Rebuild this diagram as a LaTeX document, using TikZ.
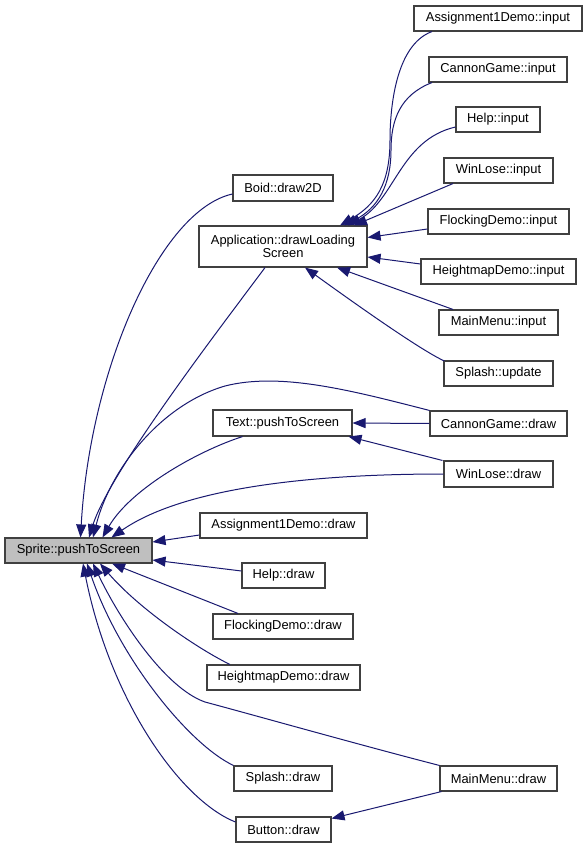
\documentclass[tikz,border=0pt]{standalone}
\usepackage{fontspec}
\setmainfont{Liberation Sans}
\usetikzlibrary{arrows.meta,calc}
\definecolor{edgeblue}{HTML}{191970}
\definecolor{boxline}{HTML}{404040}
\begin{document}
\begin{tikzpicture}[x=1pt,y=-1pt,
  box/.style={draw=boxline, line width=1.1pt, fill=white, inner sep=0pt,
    minimum height=25pt, font=\fontsize{12.9}{13}\selectfont, align=center},
  edge/.style={draw=edgeblue, line width=1pt, -{Triangle[length=13pt,width=10pt]}}]
\fill[white] (0,0) rectangle (588,848);
\useasboundingbox (0,0) rectangle (588,848);

\node[box, fill=black!25, minimum width=147pt] (sprite) at (78.5,550.5) {Sprite::pushToScreen};
\node[box, minimum width=100pt, minimum height=26pt] (boid) at (283,188) {Boid::draw2D};
\node[box, minimum width=168pt, minimum height=41pt] (app) at (283,246.5) {Application::drawLoading\\Screen};
\node[box, minimum width=168pt] (a1in) at (498,18.5) {Assignment1Demo::input};
\node[box, minimum width=138pt] (cgin) at (498,69.5) {CannonGame::input};
\node[box, minimum width=84pt] (hin) at (498,119.5) {Help::input};
\node[box, minimum width=109pt] (wlin) at (498.5,170.5) {WinLose::input};
\node[box, minimum width=141pt] (fdin) at (498.5,221.5) {FlockingDemo::input};
\node[box, minimum width=155pt] (hmin) at (498.5,271.5) {HeightmapDemo::input};
\node[box, minimum width=119pt] (mmin) at (498.5,322.5) {MainMenu::input};
\node[box, minimum width=109pt] (spup) at (498.5,373.5) {Splash::update};
\node[box, minimum width=139pt, minimum height=26pt] (text) at (282.5,423) {Text::pushToScreen};
\node[box, minimum width=137pt] (cgdr) at (498.5,423.5) {CannonGame::draw};
\node[box, minimum width=109pt, minimum height=26pt] (wldr) at (498.5,474) {WinLose::draw};
\node[box, minimum width=167pt] (a1dr) at (283.5,525.5) {Assignment1Demo::draw};
\node[box, minimum width=83pt] (hdr) at (283.5,575.5) {Help::draw};
\node[box, minimum width=140pt] (fddr) at (283,626.5) {FlockingDemo::draw};
\node[box, minimum width=153pt] (hmdr) at (283.5,677.5) {HeightmapDemo::draw};
\node[box, minimum width=98pt] (spdr) at (283,778.5) {Splash::draw};
\node[box, minimum width=117pt] (mmdr) at (498.5,778.5) {MainMenu::draw};
\node[box, minimum width=95pt] (btn) at (283.5,829.5) {Button::draw};

% edges into Sprite::pushToScreen
\draw[edge] ($(boid.west)+(0,6)$) .. controls (160,210) and (90,370) .. ($(sprite.north)+(2,0)$);
\draw[edge] ($(app.south)+(-18,0)$) .. controls (230,315) and (110,470) .. ($(sprite.north)+(10.5,0)$);
\draw[edge] (cgdr.north west) .. controls (350,390) and (280,372) .. (225,386) .. controls (160,405) and (110,470) .. ($(sprite.north)+(14.5,0)$);
\draw[edge] ($(text.south)+(-40,0)$) .. controls (195,452) and (130,490) .. ($(sprite.north)+(24,0)$);
\draw[edge] (wldr.west) .. controls (300,474) and (180,490) .. ($(sprite.north)+(33,0)$);
\draw[edge] ($(a1dr.west)+(0,9.5)$) -- ($(sprite.east)+(0,-8.5)$);
\draw[edge] ($(hdr.west)+(0,-4.5)$) -- ($(sprite.east)+(0,9.5)$);
\draw[edge] ($(fddr.north)+(-45,0)$) -- ($(sprite.south)+(33.5,0)$);
\draw[edge] ($(hmdr.north)+(-53.5,0)$) .. controls (200,650) and (140,610) .. ($(sprite.south)+(21.5,0)$);
\draw[edge] (mmdr.north west) .. controls (360,745) and (250,714) .. (205,702) .. controls (165,688) and (120,620) .. ($(sprite.south)+(14.5,0)$);
\draw[edge] (spdr.north west) .. controls (190,745) and (120,660) .. ($(sprite.south)+(8.5,0)$);
\draw[edge] ($(btn.west)+(0,-7.5)$) .. controls (180,800) and (110,700) .. ($(sprite.south)+(4.5,0)$);

% edges into Application::drawLoadingScreen
\draw[edge] ($(a1in.south)+(-66,0)$) .. controls (395,45) and (390,110) .. (390,140) .. controls (390,185) and (375,205) .. ($(app.north)+(57,0)$);
\draw[edge] ($(cgin.south)+(-66,0)$) .. controls (400,95) and (391,120) .. (391,150) .. controls (391,185) and (378,208) .. ($(app.north)+(61,0)$);
\draw[edge] ($(hin.west)+(0,7.5)$) .. controls (400,140) and (395,200) .. ($(app.north)+(65,0)$);
\draw[edge] ($(wlin.south)+(-45.5,0)$) -- ($(app.north)+(71,0)$);
\draw[edge] ($(fdin.west)+(0,7.5)$) -- ($(app.east)+(0,-9)$);
\draw[edge] ($(hmin.west)+(0,-7.5)$) -- ($(app.east)+(0,10.5)$);
\draw[edge] ($(mmin.north)+(-45.5,0)$) -- ($(app.south)+(54,0)$);
\draw[edge] ($(spup.west)+(1,-12.5)$) .. controls (420,350) and (350,300) .. ($(app.south)+(22,0)$);

% edges into Text::pushToScreen
\draw[edge] (cgdr.west) -- (text.east);
\draw[edge] ($(wldr.north west)+(-1,0)$) -- ($(text.south east)+(-4,0)$);

% edge into Button::draw
\draw[edge] ($(mmdr.south west)+(2,0)$) -- ($(btn.east)+(0,-11)$);
\end{tikzpicture}
\end{document}
